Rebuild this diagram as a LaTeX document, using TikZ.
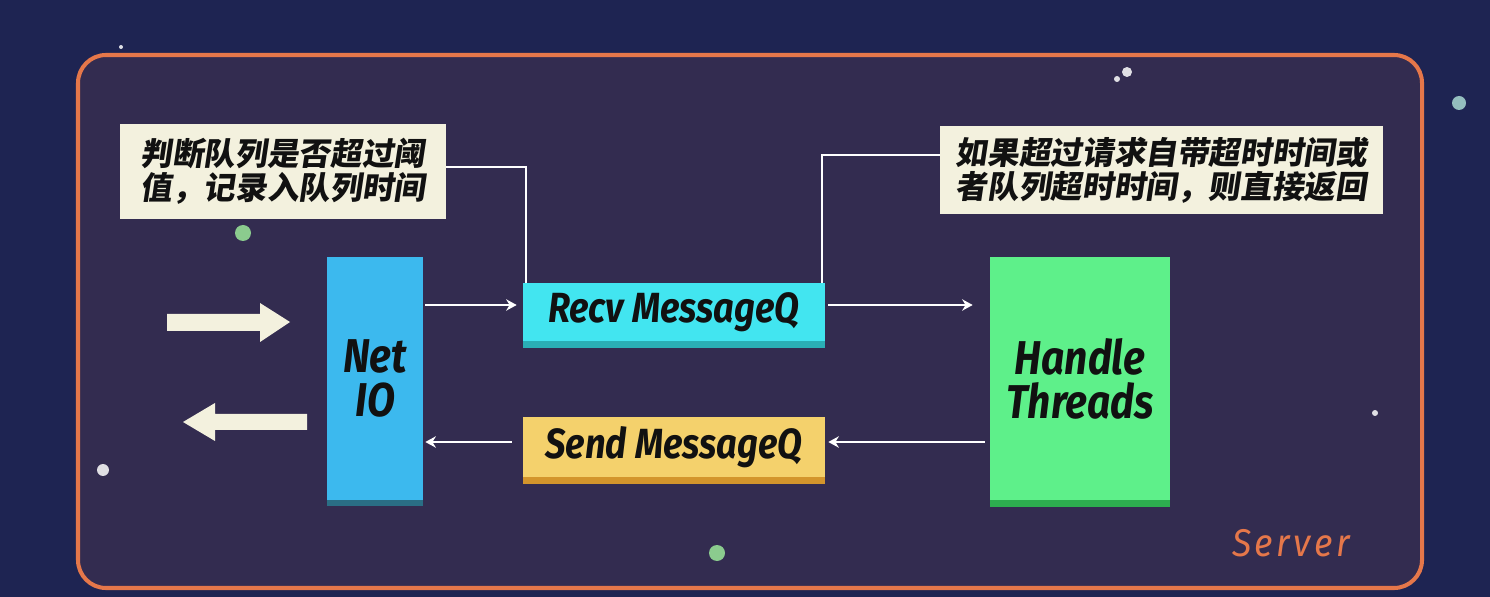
\documentclass[tikz,border=0pt]{standalone}
\usepackage{fontspec}
\setmainfont{Fira Sans}
\newfontfamily\labelfont[FakeStretch=0.86]{Fira Sans}
\newfontfamily\serverfont[FakeStretch=0.92,LetterSpace=9]{Fira Sans}
\newfontfamily\cjk[FakeSlant=0.15,BoldFeatures={FakeSlant=0.15}]{Noto Sans CJK SC}
\usetikzlibrary{arrows.meta,positioning}

\definecolor{spacebg}{HTML}{1E2452}
\definecolor{serverbg}{HTML}{332C50}
\definecolor{serverline}{HTML}{E5774A}
\definecolor{notebg}{HTML}{F3F1DE}
\definecolor{netblue}{HTML}{3CB9EE}
\definecolor{netdark}{HTML}{2A6E85}
\definecolor{recvcyan}{HTML}{42E5F0}
\definecolor{recvdark}{HTML}{2AAFB5}
\definecolor{sendyellow}{HTML}{F4D16C}
\definecolor{senddark}{HTML}{D3952C}
\definecolor{handlegreen}{HTML}{5EF08A}
\definecolor{handledark}{HTML}{2DAE4F}
\definecolor{inkdark}{HTML}{111111}
\definecolor{dotgreen}{HTML}{9BE89A}
\definecolor{dotteal}{HTML}{A9D9D2}

\tikzset{
  note/.style={fill=notebg, inner sep=0pt, align=left, text=inkdark,
    font=\cjk\bfseries\fontsize{18}{19.5}\selectfont},
  queue/.style={minimum width=6.04cm, inner sep=0pt, text=inkdark,
    font=\labelfont\bfseries\itshape\fontsize{24}{26}\selectfont},
  block/.style={minimum height=4.86cm, inner sep=0pt, align=center, text=inkdark,
    font=\labelfont\bfseries\itshape\fontsize{27}{25}\selectfont},
  flow/.style={draw=white, line width=1.1pt, -{Stealth[length=6pt,width=6.5pt]}},
  link/.style={draw=white, line width=1.1pt},
}

\begin{document}
\begin{tikzpicture}[x=0.02cm, y=-0.02cm]
        \fill[spacebg] (0,0) rectangle (1490,597);
        \useasboundingbox (0,0) rectangle (1490,597);

        % server frame
        \draw[serverline, line width=2.3pt, fill=serverbg, rounded corners=0.56cm] (78,55) rectangle (1422,588);

        % dots
        \foreach \px/\py/\r/\c in {243/233/0.16/dotgreen, 717/553/0.16/dotgreen, 103/470/0.12/white,
                                   1127/72/0.1/white, 1117/79/0.06/white, 1459/103/0.14/dotteal,
                                   1375/413/0.06/white, 121/47/0.04/white}
          \fill[\c, opacity=0.85] (\px,\py) circle[radius=\r cm];

        % notes
        \node[note, minimum width=6.52cm, minimum height=1.9cm] (note1) at (283,171.5)
             {判断队列是否超过阈\\值，记录入队列时间};
        \node[note, minimum width=8.86cm, minimum height=1.76cm] (note2) at (1161.5,170)
             {如果超过请求自带超时时间或\\者队列超时时间，则直接返回};

        % blocks
        \node[block, fill=netblue, minimum width=1.92cm] (netio) at (375,378.5) {Net\\IO};
        \fill[netdark] (netio.south west) rectangle ++(96,6);
        \node[block, fill=handlegreen, minimum width=3.6cm] (handle) at (1080,378.5) {Handle\\Threads};
        \fill[handledark] (handle.south west) rectangle ++(180,7);

        \node[queue, fill=recvcyan, minimum height=1.16cm] (recv) at (674,312) {Recv MessageQ};
        \fill[recvdark] (recv.south west) rectangle ++(302,7);
        \node[queue, fill=sendyellow, minimum height=1.2cm] (send) at (674,447) {Send MessageQ};
        \fill[senddark] (send.south west) rectangle ++(302,7);

        \node[text=serverline, font=\serverfont\itshape\fontsize{22}{24}\selectfont] (server) at (1291,543) {Server};

        % in / out arrows
        \fill[notebg] (167,314) -- (260,314) -- (260,303) -- (290,322) -- (260,342) -- (260,331) -- (167,331) -- cycle;
        \fill[notebg] (307,414) -- (215,414) -- (215,403) -- (183,422) -- (215,441) -- (215,430) -- (307,430) -- cycle;

        % connectors
        \coordinate (topline) at (0,305);
        \coordinate (botline) at (0,442);
        \draw[flow, shorten <=0.04cm, shorten >=0.12cm] (netio.east |- topline) -- (recv.west |- topline);
        \draw[flow, shorten <=0.06cm, shorten >=0.34cm] (recv.east |- topline) -- (handle.west |- topline);
        \draw[flow, shorten <=0.1cm, shorten >=0.06cm] (handle.west |- botline) -- (send.east |- botline);
        \draw[flow, shorten <=0.22cm, shorten >=0.04cm] (send.west |- botline) -- (netio.east |- botline);

        \draw[link] ([yshift=0.09cm]note1.east) -| ([xshift=0.06cm]recv.north west);
        \draw[link] ([yshift=0.3cm]note2.west) -| ([xshift=-0.06cm]recv.north east);
\end{tikzpicture}
\end{document}
